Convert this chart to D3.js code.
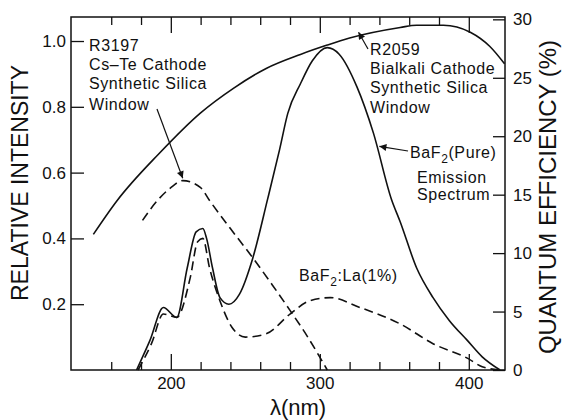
<!DOCTYPE html>
<html>
<head>
<meta charset="utf-8">
<script src="https://cdn.jsdelivr.net/npm/d3@7"></script>
<style>
    body { margin: 0; background: #fff; }
    text { font-family: "Liberation Sans", Arial, Helvetica, sans-serif; fill: #111; }
    .frame { fill: none; stroke: #111; stroke-width: 1.5; }
    .tick line { stroke: #111; stroke-width: 1.3; }
    .curve { fill: none; stroke: #111; stroke-width: 1.6; }
    .dashed { stroke-dasharray: 9,5; }
    .arrow { stroke: #111; stroke-width: 1.2; fill: none; }
    .note { font-size: 16px; letter-spacing: 0.6px; }
</style>
</head>
<body>
<script>
//R2059 bialkali cathode QE (right axis, %)
var r2059Nm = [148, 164, 192, 220, 242, 264, 287, 305, 320, 354, 365, 383, 401, 414, 424];
var r2059QE = [11.6, 14.5, 18.5, 22.0, 24.1, 25.8, 27.0, 27.8, 28.4, 29.3, 29.5, 29.5, 28.9, 27.7, 26.2];

//R3197 Cs-Te cathode QE (right axis, %)
var r3197Nm = [181, 191, 200, 208, 220, 226, 240, 255, 268, 280, 292, 300, 305];
var r3197QE = [12.8, 14.5, 15.6, 16.2, 15.6, 14.5, 12.1, 9.6, 7.3, 5.1, 2.8, 1.1, 0];

//BaF2 (pure) emission spectrum (left axis)
var pureNm = [177, 186, 195, 204, 211, 217, 221.5, 224, 228, 233, 239, 246, 255, 265, 273, 278.5, 287, 295, 305, 313, 325, 336, 348, 354, 365, 376, 387, 399, 409, 421];
var pureInt = [0, 0.09, 0.19, 0.16, 0.31, 0.42, 0.43, 0.40, 0.31, 0.22, 0.20, 0.23, 0.34, 0.52, 0.67, 0.78, 0.87, 0.94, 0.98, 0.96, 0.86, 0.72, 0.52, 0.45, 0.31, 0.22, 0.15, 0.09, 0.04, 0];

//BaF2:La(1%) emission spectrum (left axis)
var laNm = [178, 187, 195, 204, 213, 218, 221.5, 226, 233, 241, 250, 264, 280, 293, 307, 327, 354, 376, 399, 409, 421];
var laInt = [0, 0.08, 0.17, 0.16, 0.28, 0.39, 0.40, 0.31, 0.21, 0.13, 0.10, 0.11, 0.17, 0.21, 0.22, 0.19, 0.14, 0.08, 0.036, 0.01, 0];

//tick values
var xMinor = [160, 180, 220, 240, 260, 280, 320, 340, 360, 380];
var xMajor = [200, 300, 400];
var leftTicks = [0.2, 0.4, 0.6, 0.8, 1.0];
var rightTicks = [0, 5, 10, 15, 20, 25, 30];

window.onload = drawChart();

function drawChart(){

    var width = 563,
        height = 420;

    var svg = d3.select("body")
        .append("svg")
        .attr("width", width)
        .attr("height", height);

    //plot frame edges
    var left = 71, right = 505, top = 17, bottom = 370;

    var x = d3.scaleLinear().domain([133, 424.3]).range([left, right]);
    var yL = d3.scaleLinear().domain([0, 1.073]).range([bottom, top]);
    var yR = d3.scaleLinear().domain([0, 30.2]).range([bottom, top]);

    //arrow head
    svg.append("defs").append("marker")
        .attr("id", "head")
        .attr("viewBox", "0 0 10 10")
        .attr("refX", 10)
        .attr("refY", 5)
        .attr("markerWidth", 9)
        .attr("markerHeight", 7)
        .attr("markerUnits", "userSpaceOnUse")
        .attr("orient", "auto")
        .append("path")
        .attr("d", "M0,0 L10,5 L0,10 Z")
        .attr("fill", "#111");

    //bottom axis, minor and major ticks pointing inward
    svg.append("g")
        .attr("transform", "translate(0," + bottom + ")")
        .call(d3.axisBottom(x).tickValues(xMinor).tickSize(-8).tickFormat(""));
    svg.append("g")
        .attr("transform", "translate(0," + bottom + ")")
        .call(d3.axisBottom(x).tickValues(xMajor).tickSize(-16).tickPadding(7));

    //top axis, ticks only
    svg.append("g")
        .attr("transform", "translate(0," + top + ")")
        .call(d3.axisTop(x).tickValues(xMinor).tickSize(-8).tickFormat(""));
    svg.append("g")
        .attr("transform", "translate(0," + top + ")")
        .call(d3.axisTop(x).tickValues(xMajor).tickSize(-16).tickFormat(""));

    //left axis
    svg.append("g")
        .attr("transform", "translate(" + left + ",0)")
        .call(d3.axisLeft(yL).tickValues(leftTicks).tickSize(-13).tickPadding(5).tickFormat(d3.format(".1f")));

    //right axis
    svg.append("g")
        .attr("transform", "translate(" + right + ",0)")
        .call(d3.axisRight(yR).tickValues(rightTicks).tickSize(-12).tickPadding(8));

    svg.selectAll(".domain").remove();
    svg.selectAll(".tick text").style("font-size", "17px").style("font-family", "Liberation Sans, Arial, sans-serif");

    svg.append("rect")
        .attr("class", "frame")
        .attr("x", left)
        .attr("y", top)
        .attr("width", right - left)
        .attr("height", bottom - top);

    //line generators
    var lineR = d3.line()
        .x(function(d){ return x(d[0]); })
        .y(function(d){ return yR(d[1]); })
        .curve(d3.curveMonotoneX);
    var lineL = d3.line()
        .x(function(d){ return x(d[0]); })
        .y(function(d){ return yL(d[1]); })
        .curve(d3.curveMonotoneX);

    svg.append("path")
        .datum(d3.zip(r2059Nm, r2059QE))
        .attr("class", "curve")
        .attr("d", lineR);
    svg.append("path")
        .datum(d3.zip(r3197Nm, r3197QE))
        .attr("class", "curve dashed")
        .attr("d", lineR);
    svg.append("path")
        .datum(d3.zip(pureNm, pureInt))
        .attr("class", "curve")
        .attr("d", lineL);
    svg.append("path")
        .datum(d3.zip(laNm, laInt))
        .attr("class", "curve dashed")
        .attr("d", lineL);

    //axis titles
    svg.append("text")
        .attr("transform", "translate(28,183) rotate(-90)")
        .attr("text-anchor", "middle")
        .style("font-size", "23px")
        .text("RELATIVE INTENSITY");
    svg.append("text")
        .attr("transform", "translate(556,197) rotate(-90)")
        .attr("text-anchor", "middle")
        .style("font-size", "24px")
        .text("QUANTUM EFFICIENCY (%)");
    svg.append("text")
        .attr("x", 298)
        .attr("y", 415)
        .attr("text-anchor", "middle")
        .style("font-size", "22px")
        .text("λ(nm)");

    //annotation blocks
    function block(lines, x0, ys){
        lines.forEach(function(t, i){
            svg.append("text")
                .attr("class", "note")
                .attr("x", x0)
                .attr("y", ys[i])
                .text(t);
        });
    }
    block(["R3197", "Cs–Te Cathode", "Synthetic Silica", "Window"], 89, [51, 70, 89, 110]);
    block(["R2059", "Bialkali Cathode", "Synthetic Silica", "Window"], 370, [55, 74, 93, 113]);
    block(["Emission", "Spectrum"], 417, [183, 200]);

    //labels with subscript 2
    function baf(x0, y0, rest){
        var t = svg.append("text")
            .attr("class", "note")
            .attr("x", x0)
            .attr("y", y0);
        t.append("tspan").text("BaF");
        t.append("tspan").attr("dy", 5).style("font-size", "12px").text("2");
        t.append("tspan").attr("dy", -5).text(rest);
    }
    baf(410, 158, "(Pure)");
    baf(299, 281, ":La(1%)");

    //arrows pointing at curves (tips in data units)
    function arrow(x1, y1, tipNm, tipY){
        svg.append("line")
            .attr("class", "arrow")
            .attr("x1", x1)
            .attr("y1", y1)
            .attr("x2", x(tipNm))
            .attr("y2", tipY)
            .attr("marker-end", "url(#head)");
    }
    arrow(157, 109, 208, yR(16.4));
    arrow(368, 49, 326, yR(28.9));
    arrow(408, 151, 340, yL(0.68));
};
</script>
</body>
</html>
